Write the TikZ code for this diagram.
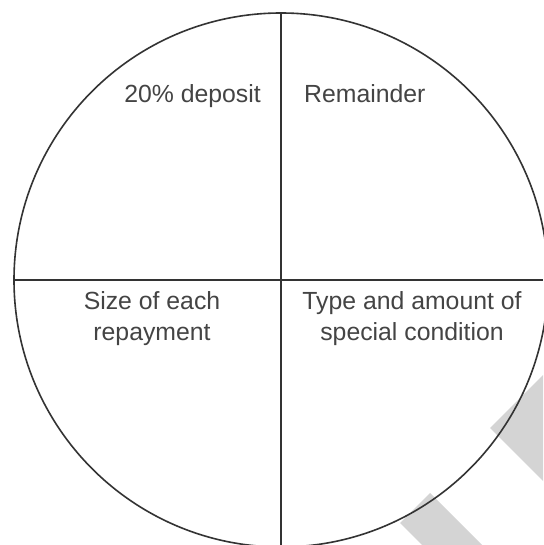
\documentclass[tikz,border=0pt]{standalone}
\usepackage{fontspec}
\setmainfont{Liberation Sans}
\definecolor{ink}{HTML}{333333}
\definecolor{txt}{HTML}{444444}
\definecolor{wm}{HTML}{D4D4D4}
\tikzset{
  divider/.style={draw=ink, line width=1.7pt},
  lbl/.style={text=txt, inner sep=0pt, font=\fontsize{24.8}{30}\selectfont},
  wmark/.style={fill=wm, draw=none}
}
\begin{document}
\begin{tikzpicture}[x=1pt,y=-1pt]
\useasboundingbox (0,0) rectangle (543,545);
\fill[white] (0,0) rectangle (543,545);
% watermark bands
\fill[wmark] (490,428) -- (543,375) -- (543,481) -- cycle;
\fill[wmark] (400,523) -- (430,493) -- (482,545) -- (422,545) -- cycle;
% circle
\node[circle, draw=ink, line width=1.6pt, minimum size=534pt, inner sep=0pt] (c) at (281,280) {};
\coordinate (bot) at (281,545);
\coordinate (rgt) at (543,280);
\draw[divider] (c.north) -- (bot);
\draw[divider] (c.west) -- (rgt);
% labels
\node[lbl, anchor=base east] (dep) at (261,103) {20\% deposit};
\node[lbl, anchor=base west] (rem) at (304,103) {Remainder};
\node[lbl, anchor=base] (s1) at (152,309) {Size of each};
\node[lbl, anchor=base] (s2) at (152,340) {repayment};
\node[lbl, anchor=base] (t1) at (412,309) {Type and amount of};
\node[lbl, anchor=base] (t2) at (412,340) {special condition};
\end{tikzpicture}
\end{document}
